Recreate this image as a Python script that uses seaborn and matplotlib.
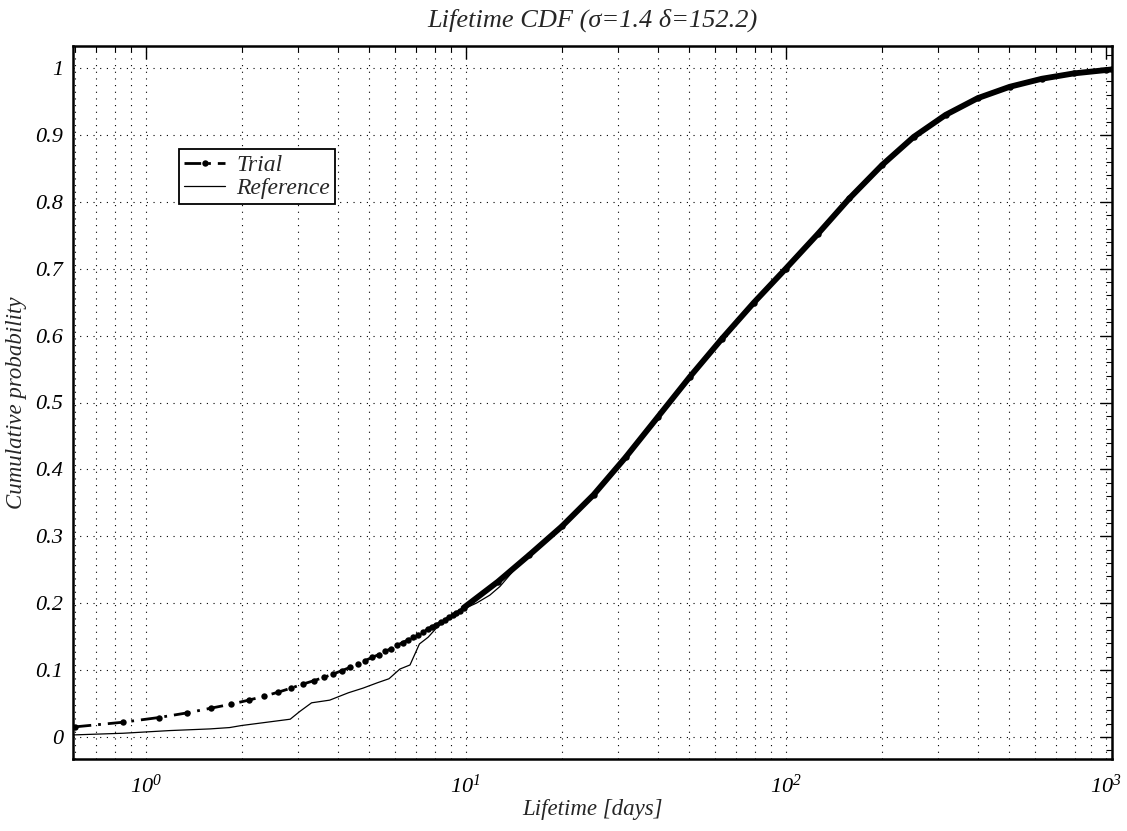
import numpy as np
import pandas as pd
import matplotlib
matplotlib.use("Agg")
import matplotlib.pyplot as plt
import seaborn as sns
from matplotlib.ticker import LogLocator, MultipleLocator, FixedLocator, FuncFormatter, NullFormatter

# ---------------- data ----------------
trial_x = [0.6, 0.85, 1.1, 1.35, 1.6, 1.85, 2.1, 2.35, 2.6, 2.85, 3.1, 3.35, 3.6, 3.85,
           4.1, 4.35, 4.6, 4.85, 5.1, 5.35, 5.6, 5.85, 6.1, 6.35, 6.6, 6.85, 7.1, 7.35,
           7.6, 7.85, 8.1, 8.35, 8.6, 8.85, 9.1, 9.35, 9.6, 9.85,
           12.6, 15.8, 20, 25.1, 31.6, 39.8, 50.1, 63.1, 79.4, 100, 126, 158, 200,
           251, 316, 398, 501, 631, 794, 1000, 1046]
trial_y = [0.015, 0.022, 0.029, 0.036, 0.043, 0.049, 0.055, 0.061, 0.067, 0.073, 0.079,
           0.084, 0.089, 0.094, 0.099, 0.104, 0.109, 0.114, 0.119, 0.123, 0.128, 0.132,
           0.137, 0.141, 0.145, 0.149, 0.153, 0.157, 0.161, 0.165, 0.168, 0.172, 0.175,
           0.179, 0.182, 0.186, 0.189, 0.193,
           0.232, 0.272, 0.315, 0.362, 0.418, 0.478, 0.538, 0.595, 0.649, 0.700, 0.752,
           0.805, 0.855, 0.897, 0.930, 0.955, 0.972, 0.984, 0.992, 0.997, 0.998]

ref_x = [0.594, 0.85, 1.19, 1.59, 1.83, 1.99, 2.83, 3.03, 3.30, 3.76, 4.30, 4.78, 5.30,
         5.76, 6.23, 6.70, 7.17, 7.63, 8.18, 8.82, 9.24, 9.83, 10.8, 11.9, 12.8, 13.9,
         14.7, 20, 25.1, 31.6, 39.8, 50.1, 63.1, 79.4, 100, 126, 158, 200, 251, 316,
         398, 501, 631, 794, 1000, 1046]
ref_y = [0.003, 0.0055, 0.0095, 0.012, 0.014, 0.017, 0.0265, 0.038, 0.051, 0.055, 0.066,
         0.073, 0.081, 0.087, 0.1015, 0.1076, 0.139, 0.149, 0.165, 0.175, 0.182, 0.191,
         0.200, 0.212, 0.225, 0.245, 0.260, 0.315, 0.362, 0.418, 0.478, 0.538, 0.595,
         0.649, 0.700, 0.752, 0.805, 0.855, 0.897, 0.930, 0.955, 0.972, 0.984, 0.992,
         0.997, 0.998]

title_text = "Lifetime CDF (σ=1.4 δ=152.2)"
x_label = "Lifetime [days]"
y_label = "Cumulative probability"
y_ticks = [0, 0.1, 0.2, 0.3, 0.4, 0.5, 0.6, 0.7, 0.8, 0.9, 1]
x_ticks = [1, 10, 100, 1000]

# ---------------- style ----------------
sns.set_style("white")
plt.rcParams["font.family"] = ["Liberation Serif", "DejaVu Serif"]
plt.rcParams["font.style"] = "italic"
plt.rcParams["mathtext.fontset"] = "custom"
plt.rcParams["mathtext.rm"] = "Liberation Serif:italic"
plt.rcParams["mathtext.it"] = "Liberation Serif:italic"

fig = plt.figure(figsize=(11.27, 8.31), dpi=100)
ax = fig.add_axes([73 / 1127, 1 - 759 / 831, (1112 - 73) / 1127, (759 - 46) / 831])

trial = pd.DataFrame({"x": trial_x, "y": trial_y})
ref = pd.DataFrame({"x": ref_x, "y": ref_y})

sns.lineplot(data=ref, x="x", y="y", ax=ax, color="black", lw=0.9,
             label="Reference", estimator=None, sort=False)
sns.lineplot(data=trial, x="x", y="y", ax=ax, color="black", lw=2.0,
             linestyle=(0, (6, 2.5, 1, 2.5)), marker="o", markersize=4.6,
             markeredgewidth=0, label="Trial", estimator=None, sort=False)
# dense-marker band of the Trial curve (same data drawn thick)
band = trial[trial["x"] >= 9.8]
sns.lineplot(data=band, x="x", y="y", ax=ax, color="black", lw=4.2,
             solid_capstyle="round", solid_joinstyle="round", label="_band",
             estimator=None, sort=False, legend=False)

ax.set_xscale("log")
ax.set_xlim(0.593, 1046)
ax.set_ylim(-0.033, 1.033)

ax.xaxis.set_major_locator(FixedLocator(x_ticks))
ax.xaxis.set_minor_locator(LogLocator(base=10, subs=np.arange(2, 10)))
ax.xaxis.set_minor_formatter(NullFormatter())
ax.xaxis.set_major_formatter(FuncFormatter(lambda v, p: r"$10^{%d}$" % int(round(np.log10(v)))))
ax.yaxis.set_major_locator(FixedLocator(y_ticks))
ax.yaxis.set_minor_locator(MultipleLocator(0.02))
ax.yaxis.set_major_formatter(FuncFormatter(lambda v, p: "%g" % v))

ax.tick_params(which="both", direction="in", top=True, right=True, colors="black")
ax.tick_params(which="major", length=9, width=1.0, labelsize=16)
ax.tick_params(which="minor", length=4, width=0.8)
ax.tick_params(axis="x", which="major", pad=11)
ax.tick_params(axis="y", which="major", pad=7)

ax.grid(which="major", axis="both", color="black", lw=0.8, linestyle=(0, (1, 5)))
ax.grid(which="minor", axis="x", color="black", lw=0.8, linestyle=(0, (1, 5)))

for s in ax.spines.values():
    s.set_visible(True)
    s.set_color("black")
    s.set_linewidth(1.8)

ax.set_title(title_text, fontsize=19, pad=14)
ax.set_xlabel(x_label, fontsize=16.5, labelpad=1)
ax.set_ylabel(y_label, fontsize=16.5, labelpad=6)

handles, labels = ax.get_legend_handles_labels()
order = [labels.index("Trial"), labels.index("Reference")]
leg = ax.legend([handles[i] for i in order], [labels[i] for i in order],
                loc="upper left", bbox_to_anchor=(0.102, 0.855), fontsize=17,
                frameon=True, fancybox=False, framealpha=1, edgecolor="black",
                handlelength=1.75, borderpad=0.22, labelspacing=0.06,
                handletextpad=0.45, borderaxespad=0)
leg.get_frame().set_linewidth(1.3)

fig.savefig("out.png", dpi=100)
